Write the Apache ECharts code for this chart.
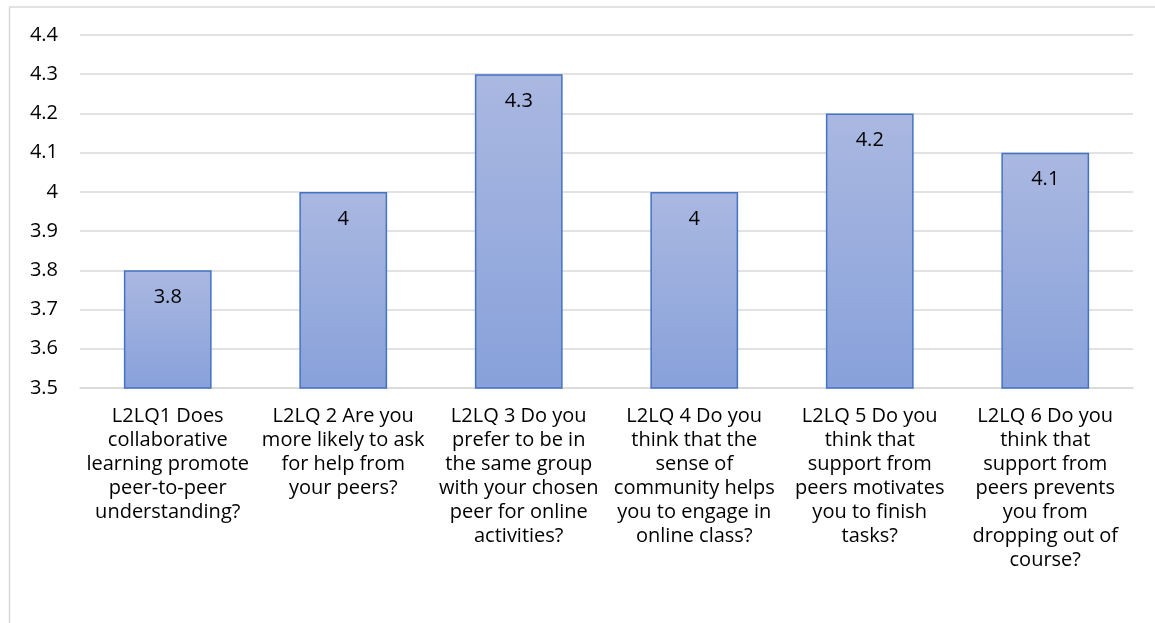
<!DOCTYPE html>
<html>
<head>
<meta charset="utf-8">
<script src="https://cdn.jsdelivr.net/npm/echarts@6/dist/echarts.min.js"></script>
<style>
  html, body { margin: 0; padding: 0; background: #fff; }
  #chart { width: 1155px; height: 623px; }
</style>
</head>
<body>
<div id="chart"></div>
<script>
// Survey questions (wrapped as they appear under each bar)
const categories = [
  'L2LQ1 Does\ncollaborative\nlearning promote\npeer-to-peer\nunderstanding?',
  'L2LQ 2 Are you\nmore likely to ask\nfor help from\nyour peers?',
  'L2LQ 3 Do you\nprefer to be in\nthe same group\nwith your chosen\npeer for online\nactivities?',
  'L2LQ 4 Do you\nthink that the\nsense of\ncommunity helps\nyou to engage in\nonline class?',
  'L2LQ 5 Do you\nthink that\nsupport from\npeers motivates\nyou to finish\ntasks?',
  'L2LQ 6 Do you\nthink that\nsupport from\npeers prevents\nyou from\ndropping out of\ncourse?'
];
// Mean scores
const meanScores = [3.8, 4.0, 4.3, 4.0, 4.2, 4.1];
// Value axis range
const axisMin = 3.5;
const axisMax = 4.4;
const axisStep = 0.1;

const fontFamily = '"Open Sans", Lato, "Liberation Sans", sans-serif';
const fmt = v => String(parseFloat(Number(v).toFixed(1)));

const chart = echarts.init(document.getElementById('chart'), null, { renderer: 'canvas' });
chart.setOption({
  animation: false,
  backgroundColor: '#ffffff',
  graphic: [
    { type: 'line', shape: { x1: 9, y1: 7, x2: 1155, y2: 7 }, style: { stroke: '#d9d9d9', lineWidth: 1.5 } },
    { type: 'line', shape: { x1: 9.5, y1: 7, x2: 9.5, y2: 623 }, style: { stroke: '#d9d9d9', lineWidth: 1.5 } }
  ],
  grid: { left: 80, right: 22, top: 35, bottom: 235, containLabel: false },
  xAxis: {
    type: 'category',
    data: categories,
    axisLine: { show: true, lineStyle: { color: '#d9d9d9', width: 1.5 } },
    axisTick: { show: false },
    axisLabel: {
      interval: 0,
      margin: 16,
      color: '#000',
      fontSize: 20,
      lineHeight: 24,
      fontFamily: fontFamily,
      align: 'center'
    }
  },
  yAxis: {
    type: 'value',
    min: axisMin,
    max: axisMax,
    interval: axisStep,
    axisLine: { show: false },
    axisTick: { show: false },
    splitLine: { lineStyle: { color: '#d9d9d9', width: 1.5 } },
    axisLabel: {
      margin: 22,
      color: '#000',
      fontSize: 20,
      fontFamily: fontFamily,
      formatter: fmt
    }
  },
  series: [{
    type: 'bar',
    data: meanScores,
    barWidth: '50%',
    itemStyle: {
      color: new echarts.graphic.LinearGradient(0, 0, 0, 1, [
        { offset: 0, color: '#aab8e1' },
        { offset: 1, color: '#88a1da' }
      ]),
      borderColor: '#4472c4',
      borderWidth: 1.5
    },
    label: {
      show: true,
      position: 'insideTop',
      distance: 17,
      color: '#000',
      fontSize: 20,
      fontFamily: fontFamily,
      formatter: p => fmt(p.value)
    }
  }]
});
</script>
</body>
</html>
